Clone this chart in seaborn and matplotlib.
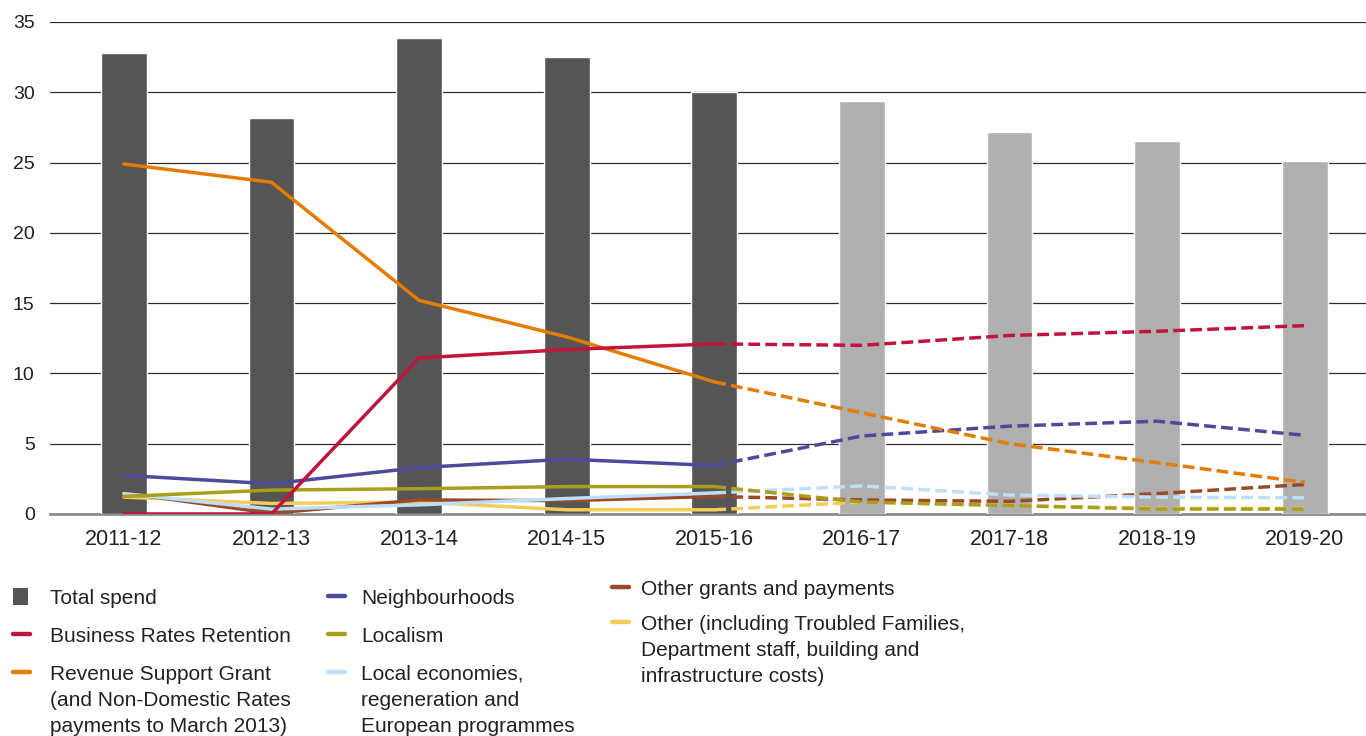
import numpy as np
import pandas as pd
import matplotlib
matplotlib.use("Agg")
import matplotlib.pyplot as plt
from matplotlib.lines import Line2D
from matplotlib.patches import Rectangle
import seaborn as sns

# ---------------- data ----------------
years = ["2011-12", "2012-13", "2013-14", "2014-15", "2015-16",
         "2016-17", "2017-18", "2018-19", "2019-20"]
total_spend = [32.8, 28.2, 33.85, 32.5, 30.0, 29.4, 27.2, 26.5, 25.1]
business_rates = [0.0, 0.0, 11.1, 11.7, 12.1, 12.0, 12.7, 13.0, 13.4]
revenue_support = [24.9, 23.6, 15.2, 12.6, 9.4, 7.2, 5.0, 3.65, 2.25]
neighbourhoods = [2.75, 2.15, 3.3, 3.9, 3.45, 5.55, 6.25, 6.6, 5.6]
localism = [1.25, 1.7, 1.8, 1.95, 1.95, 0.85, 0.6, 0.35, 0.35]
local_economies = [1.45, 0.35, 0.65, 1.1, 1.5, 2.0, 1.35, 1.2, 1.15]
other_grants = [1.5, 0.05, 1.0, 0.95, 1.25, 1.0, 0.9, 1.45, 2.1]
other = [1.2, 0.75, 0.85, 0.3, 0.3, 0.85, 0.6, 0.4, 0.4]
last_actual = 4  # index of 2015-16: solid up to here, dashed afterwards

series_names = ["Other", "Other grants and payments", "Local economies",
                "Localism", "Neighbourhoods", "Revenue Support Grant",
                "Business Rates Retention"]
series_values = [other, other_grants, local_economies, localism,
                 neighbourhoods, revenue_support, business_rates]
series_colors = ["#f4cc5c", "#9a4a2b", "#bde0f6", "#a99f1c",
                 "#4c4b9b", "#e47c00", "#c0143c"]

legend_col1 = [("Total spend", "#555555", "bar"),
               ("Business Rates Retention", "#c0143c", "line"),
               ("Revenue Support Grant\n(and Non-Domestic Rates\npayments to March 2013)", "#e47c00", "line")]
legend_col2 = [("Neighbourhoods", "#4c4b9b", "line"),
               ("Localism", "#a99f1c", "line"),
               ("Local economies,\nregeneration and\nEuropean programmes", "#bde0f6", "line")]
legend_col3 = [("Other grants and payments", "#9a4a2b", "line"),
               ("Other (including Troubled Families,\nDepartment staff, building and\ninfrastructure costs)", "#f4cc5c", "line")]

# ---------------- figure ----------------
sns.set_theme(style="white")
plt.rcParams["font.family"] = ["Liberation Sans", "DejaVu Sans"]
TXT = "#222222"

W, H = 1366, 736
fig = plt.figure(figsize=(W / 100, H / 100), dpi=100)
ax = fig.add_axes([50 / W, 1 - 514 / H, (W - 50) / W, (514 - 22) / H])

pos = np.arange(len(years))
bar_colors = ["#555555" if i <= last_actual else "#b0b0b0" for i in range(len(years))]
sns.barplot(x=years, y=total_spend, hue=years, palette=bar_colors,
            legend=False, width=0.31, ax=ax, saturation=1, zorder=2)

rows = []
for name, vals in zip(series_names, series_values):
    for i, v in enumerate(vals):
        if i <= last_actual:
            rows.append((name, "actual", pos[i], v))
        if i >= last_actual:
            rows.append((name, "plan", pos[i], v))
df = pd.DataFrame(rows, columns=["series", "phase", "x", "value"])

sns.lineplot(data=df, x="x", y="value", hue="series", style="phase",
             hue_order=series_names, palette=series_colors,
             dashes={"actual": "", "plan": (3.4, 1.5)},
             estimator=None, sort=False, linewidth=2.5, legend=False,
             ax=ax, zorder=3)

ax.set_xlim(-0.5, 8.415)
ax.set_ylim(0, 35)
ax.set_yticks(range(0, 36, 5))
ax.set_xticks(pos, years)
ax.set_xlabel("")
ax.set_ylabel("")
ax.yaxis.grid(True, color="#2e2e2e", linewidth=0.9)
ax.xaxis.grid(False)
ax.set_axisbelow(True)
for s in ["top", "right", "left"]:
    ax.spines[s].set_visible(False)
ax.spines["bottom"].set_color("#8c8c8c")
ax.spines["bottom"].set_linewidth(2)
ax.spines["bottom"].set_zorder(1)
ax.tick_params(axis="y", length=0, pad=11, labelsize=14, labelcolor=TXT)
ax.tick_params(axis="x", length=0, pad=11, labelsize=15.5, labelcolor=TXT)

# ---------------- legend (drawn manually in pixel layout) ----------------
def fx(px):
    return px / W

def fy(py):
    return 1 - py / H

def draw_column(items, x_handle, x_text, y_start, step):
    y = y_start
    for label, color, kind in items:
        if kind == "bar":
            fig.patches.append(Rectangle((fx(x_handle), fy(y + 8.5)), 15 / W, 17 / H,
                                         transform=fig.transFigure, facecolor=color,
                                         edgecolor="none"))
        else:
            fig.lines.append(Line2D([fx(x_handle), fx(x_handle + 17)], [fy(y), fy(y)],
                                    transform=fig.transFigure, color=color,
                                    linewidth=3.2, solid_capstyle="round"))
        fig.text(fx(x_text), fy(y - 7), label, ha="left", va="top", fontsize=15,
                 color=TXT, linespacing=1.48, transform=fig.transFigure)
        y += step + 26 * label.count("\n")

draw_column(legend_col1, 13, 50, 596, 38)
draw_column(legend_col2, 328, 361, 596, 38)
draw_column(legend_col3, 612, 641, 587, 35)

fig.savefig("out.png", dpi=100)
